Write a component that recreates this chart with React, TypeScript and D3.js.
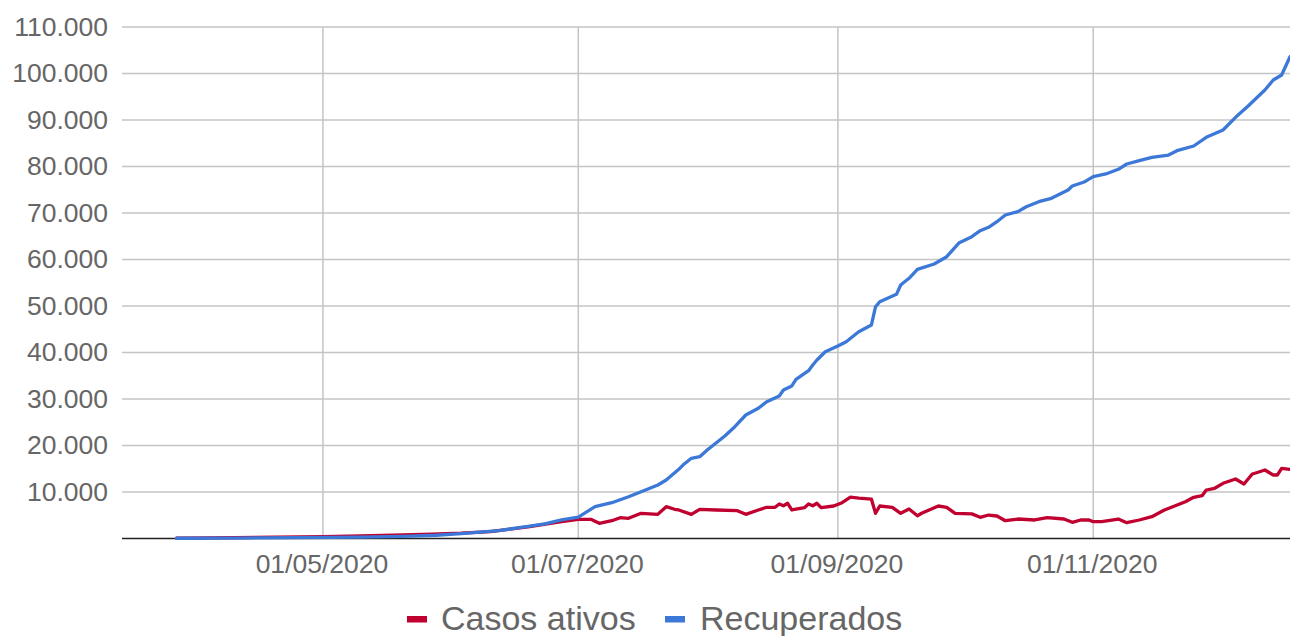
import * as d3 from 'd3';

// Recuperados (blue)
const recuperados: [string, number][] = [
  ['27/03/2020', 50], ['10/04/2020', 100], ['25/04/2020', 180], ['10/05/2020', 300],
  ['20/05/2020', 450], ['28/05/2020', 700], ['03/06/2020', 1050], ['12/06/2020', 1700],
  ['19/06/2020', 2600], ['23/06/2020', 3150], ['27/06/2020', 4000], ['01/07/2020', 4600],
  ['05/07/2020', 6840], ['09/07/2020', 7700], ['13/07/2020', 8990], ['16/07/2020', 10060],
  ['20/07/2020', 11500], ['22/07/2020', 12580], ['25/07/2020', 14880], ['26/07/2020', 15800],
  ['28/07/2020', 17250], ['30/07/2020', 17600], ['01/08/2020', 19180], ['02/08/2020', 19900],
  ['05/08/2020', 22040], ['07/08/2020', 23700], ['10/08/2020', 26560], ['13/08/2020', 28000],
  ['15/08/2020', 29420], ['18/08/2020', 30650], ['19/08/2020', 31930], ['21/08/2020', 32800],
  ['22/08/2020', 34240], ['25/08/2020', 36090], ['26/08/2020', 37310], ['27/08/2020', 38390],
  ['29/08/2020', 40170], ['01/09/2020', 41400], ['03/09/2020', 42320], ['05/09/2020', 43760],
  ['06/09/2020', 44470], ['09/09/2020', 45910], ['10/09/2020', 49850], ['11/09/2020', 50920],
  ['15/09/2020', 52510], ['16/09/2020', 54520], ['18/09/2020', 55960], ['20/09/2020', 57890],
  ['24/09/2020', 59030], ['27/09/2020', 60600], ['30/09/2020', 63610], ['03/10/2020', 64900],
  ['05/10/2020', 66190], ['07/10/2020', 66920], ['09/10/2020', 68130], ['11/10/2020', 69570],
  ['14/10/2020', 70280], ['16/10/2020', 71350], ['19/10/2020', 72430], ['22/10/2020', 73160],
  ['26/10/2020', 74950], ['27/10/2020', 75810], ['30/10/2020', 76730], ['01/11/2020', 77810],
  ['04/11/2020', 78390], ['07/11/2020', 79400], ['09/11/2020', 80540], ['12/11/2020', 81250],
  ['15/11/2020', 81980], ['19/11/2020', 82470], ['21/11/2020', 83400], ['25/11/2020', 84410],
  ['28/11/2020', 86280], ['02/12/2020', 87850], ['05/12/2020', 90580], ['08/12/2020', 93010],
  ['12/12/2020', 96450], ['14/12/2020', 98600], ['16/12/2020', 99680], ['18/12/2020', 103600],
];

// Casos ativos (red)
const casosAtivos: [string, number][] = [
  ['27/03/2020', 100], ['10/04/2020', 200], ['20/04/2020', 300], ['01/05/2020', 400],
  ['10/05/2020', 550], ['20/05/2020', 800], ['27/05/2020', 950], ['03/06/2020', 1150],
  ['10/06/2020', 1500], ['19/06/2020', 2500], ['27/06/2020', 3610], ['01/07/2020', 4130],
  ['04/07/2020', 4130], ['06/07/2020', 3270], ['09/07/2020', 3830], ['11/07/2020', 4470],
  ['13/07/2020', 4340], ['16/07/2020', 5420], ['20/07/2020', 5200], ['22/07/2020', 6840],
  ['24/07/2020', 6280], ['25/07/2020', 6130], ['28/07/2020', 5200], ['30/07/2020', 6280],
  ['03/08/2020', 6130], ['08/08/2020', 5980], ['10/08/2020', 5200], ['13/08/2020', 6130],
  ['15/08/2020', 6710], ['17/08/2020', 6710], ['18/08/2020', 7420], ['19/08/2020', 7050],
  ['20/08/2020', 7570], ['21/08/2020', 6130], ['24/08/2020', 6620], ['25/08/2020', 7420],
  ['26/08/2020', 7050], ['27/08/2020', 7570], ['28/08/2020', 6620], ['31/08/2020', 6990],
  ['02/09/2020', 7700], ['04/09/2020', 8900], ['06/09/2020', 8700], ['09/09/2020', 8490],
  ['10/09/2020', 5420], ['11/09/2020', 6990], ['14/09/2020', 6710], ['16/09/2020', 5420],
  ['18/09/2020', 6340], ['20/09/2020', 4900], ['21/09/2020', 5420], ['25/09/2020', 6990],
  ['27/09/2020', 6710], ['29/09/2020', 5420], ['03/10/2020', 5300], ['05/10/2020', 4560],
  ['07/10/2020', 5050], ['09/10/2020', 4840], ['11/10/2020', 3830], ['14/10/2020', 4190],
  ['18/10/2020', 3980], ['21/10/2020', 4470], ['25/10/2020', 4190], ['27/10/2020', 3480],
  ['29/10/2020', 3980], ['31/10/2020', 3980], ['01/11/2020', 3610], ['03/11/2020', 3610],
  ['07/11/2020', 4190], ['09/11/2020', 3400], ['12/11/2020', 3980], ['15/11/2020', 4690],
  ['18/11/2020', 6130], ['20/11/2020', 6840], ['23/11/2020', 7910], ['25/11/2020', 8860],
  ['27/11/2020', 9200], ['28/11/2020', 10430], ['30/11/2020', 10800], ['02/12/2020', 11870],
  ['05/12/2020', 12800], ['07/12/2020', 11720], ['09/12/2020', 13870], ['10/12/2020', 14150],
  ['12/12/2020', 14730], ['14/12/2020', 13660], ['15/12/2020', 13660], ['16/12/2020', 15100],
  ['18/12/2020', 14880],
];

const xTickLabels = ['01/05/2020', '01/07/2020', '01/09/2020', '01/11/2020'];
const yTickValues = [10000, 20000, 30000, 40000, 50000, 60000, 70000, 80000, 90000, 100000, 110000];
const seriesNames = ['Casos ativos', 'Recuperados'];
const seriesColors = ['#c0002f', '#3c78d8'];

const width = 1290;
const height = 636;
const font = '"Liberation Sans", Arial, sans-serif';
const textColor = '#666666';

const parse = d3.timeParse('%d/%m/%Y');
const ptBR = d3.formatLocale({ decimal: ',', thousands: '.', grouping: [3], currency: ['R$', ''] });
const fmt = ptBR.format(',d');

export default function App() {
  const x = d3.scaleTime()
    .domain([parse('14/03/2020')!, parse('18/12/2020')!])
    .range([122, 1290]);
  const y = d3.scaleLinear().domain([0, 110000]).range([538.5, 27]);

  const line = d3.line<[string, number]>()
    .x(d => x(parse(d[0])!))
    .y(d => y(d[1]));

  const series = [casosAtivos, recuperados];

  return (
    <div style={{ position: 'absolute', left: 0, top: 0 }}>
      <svg width={width} height={height} style={{ display: 'block', background: '#fff' }}>
        {/* horizontal grid */}
        {yTickValues.map(v => (
          <line key={'h' + v} x1={122} x2={width} y1={y(v)} y2={y(v)} stroke="#c4c4c4" strokeWidth={1.5} />
        ))}
        {/* vertical grid */}
        {xTickLabels.map(s => (
          <line key={'v' + s} x1={x(parse(s)!)} x2={x(parse(s)!)} y1={y(110000)} y2={y(0)} stroke="#c4c4c4" strokeWidth={1.5} />
        ))}
        {/* baseline */}
        <line x1={122} x2={width} y1={y(0)} y2={y(0)} stroke="#222222" strokeWidth={1.5} />

        {/* y labels */}
        {yTickValues.map(v => (
          <text key={'yl' + v} x={108} y={y(v) + 8.5} textAnchor="end" fontFamily={font} fontSize={26.5} fill={textColor}>
            {fmt(v)}
          </text>
        ))}
        {/* x labels */}
        {xTickLabels.map(s => (
          <text key={'xl' + s} x={x(parse(s)!) - 1} y={573} textAnchor="middle" fontFamily={font} fontSize={26.5} fill={textColor}>
            {s}
          </text>
        ))}

        {/* lines */}
        {series.map((s, i) => (
          <path key={seriesNames[i]} d={line(s) ?? ''} fill="none" stroke={seriesColors[i]} strokeWidth={3.3} strokeLinejoin="round" strokeLinecap="round" />
        ))}

        {/* legend */}
        <rect x={407} y={616} width={20} height={6.5} fill={seriesColors[0]} />
        <text x={441} y={630} fontFamily={font} fontSize={34} fill={textColor}>{seriesNames[0]}</text>
        <rect x={665} y={616} width={20} height={6.5} fill={seriesColors[1]} />
        <text x={700} y={630} fontFamily={font} fontSize={34} fill={textColor}>{seriesNames[1]}</text>
      </svg>
    </div>
  );
}
